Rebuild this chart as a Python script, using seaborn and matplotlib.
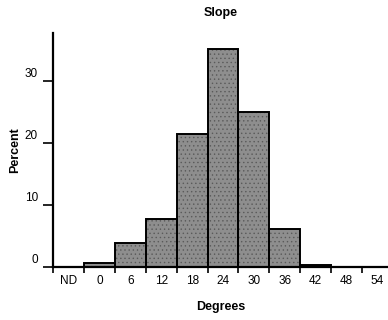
"""Slope histogram: percent of area per 6-degree slope class."""

import matplotlib

matplotlib.use("Agg")
import matplotlib.pyplot as plt
import matplotlib.transforms as mtransforms
import numpy as np
import pandas as pd
import seaborn as sns

# bins
SLOPE_BINS = ["ND", "0", "6", "12", "18", "24", "30", "36", "42", "48", "54"]
PERCENT = [0.0, 0.6, 3.8, 7.7, 21.5, 35.2, 25.0, 6.1, 0.3, 0.08, 0.08]
Y_TICKS = [0, 10, 20, 30]

sns.set_style("ticks")
plt.rcParams["font.family"] = ["Liberation Sans", "DejaVu Sans"]
plt.rcParams["hatch.linewidth"] = 0.5
plt.rcParams["text.color"] = "black"
plt.rcParams["axes.labelcolor"] = "black"
plt.rcParams["xtick.color"] = "black"
plt.rcParams["ytick.color"] = "black"

df = pd.DataFrame({"bin": SLOPE_BINS, "pct": PERCENT})

fig = plt.figure(figsize=(3.88, 3.20), dpi=100)
ax = fig.add_axes([0.1374, 0.1656, 0.8626, 0.731])

# textured fill first, then black outlines on top
sns.barplot(data=df, x="bin", y="pct", order=SLOPE_BINS, color="#8e8e8e",
            width=1.0, saturation=1, edgecolor="#5a5a5a", linewidth=0, ax=ax)
for p in ax.patches:
    p.set_hatch("....")
sns.barplot(data=df, x="bin", y="pct", order=SLOPE_BINS, color="black",
            width=1.0, saturation=1, fill=False, linewidth=1.4, ax=ax)

ax.set_xlim(-0.5, 10.35)
ax.set_ylim(0, 37.7)

sns.despine(ax=ax)
for side in ("left", "bottom"):
    ax.spines[side].set_linewidth(1.6)
    ax.spines[side].set_color("black")

# y ticks: labels sit a bit above the tick mark
ax.set_yticks(Y_TICKS)
ax.set_yticklabels([str(v) for v in Y_TICKS])
ax.tick_params(axis="y", length=7, width=1.2, labelsize=8.5, pad=4)
offset = mtransforms.ScaledTranslation(0, 6 / 72, fig.dpi_scale_trans)
for lab in ax.get_yticklabels():
    lab.set_transform(lab.get_transform() + offset)

# x: labels centred on bins, tick marks at bin edges
ax.set_xticks(np.arange(len(SLOPE_BINS)))
ax.set_xticklabels(SLOPE_BINS)
ax.tick_params(axis="x", which="major", length=0, labelsize=8.5, pad=6)
ax.set_xticks(np.arange(len(SLOPE_BINS)) - 0.5, minor=True)
ax.tick_params(axis="x", which="minor", length=4, width=1.2)

ax.set_xlabel("Degrees", fontsize=9, fontweight="bold", labelpad=10)
ax.set_ylabel("Percent", fontsize=9, fontweight="bold")
ax.yaxis.set_label_coords(-0.096, 0.5)
ax.set_title("Slope", fontsize=9, fontweight="bold", pad=12)

fig.savefig("out.png", dpi=100)
plt.close(fig)
